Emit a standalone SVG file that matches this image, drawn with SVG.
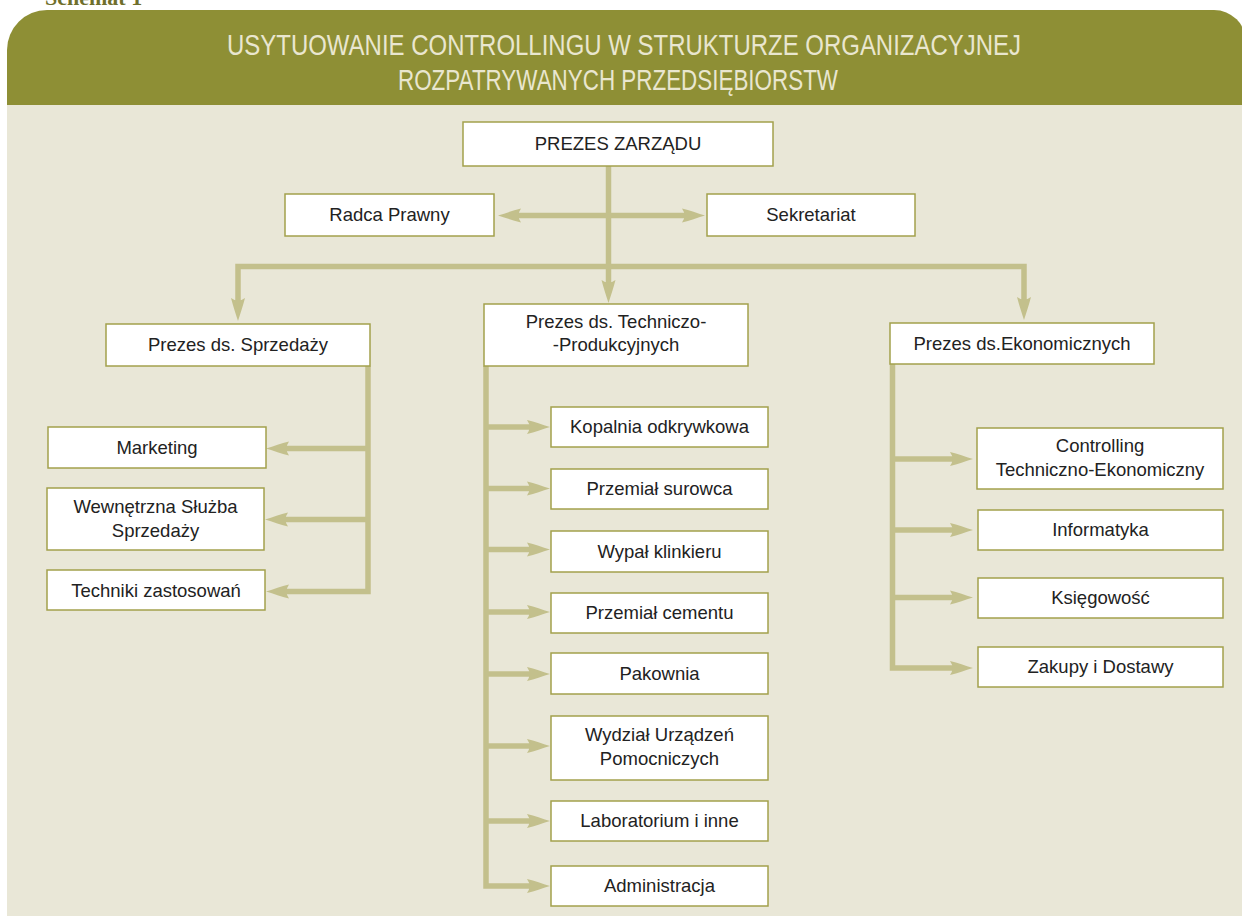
<svg xmlns="http://www.w3.org/2000/svg" width="1242" height="916" viewBox="0 0 1242 916">
<defs>
<style>
.box{fill:#ffffff;stroke:#a3a14c;stroke-width:1.5}
.lbl{font-family:"Liberation Sans",Arial,sans-serif;font-size:18.5px;fill:#222222;text-anchor:middle}
.con{fill:none;stroke:#c3c08c;stroke-width:5.5;stroke-linejoin:miter}
.ttl{font-family:"Liberation Sans",Arial,sans-serif;font-size:29px;fill:#e9e6cf;text-anchor:middle}
</style>
<marker id="ah" viewBox="-25 -8 26 16" refX="-15" refY="0" markerWidth="26" markerHeight="16" markerUnits="userSpaceOnUse" orient="auto-start-reverse">
<path d="M0,0 C-8,-2.5 -15,-5 -23,-7 Q-18,0 -23,7 C-15,5 -8,2.5 0,0 Z" fill="#c3c08c"/>
</marker>
</defs>
<rect x="0" y="0" width="1242" height="916" fill="#ffffff"/>
<text x="45" y="5" font-family="Liberation Serif,serif" font-weight="bold" font-size="22" fill="#6f6f2c">Schemat 1</text>
<g id="panel">
<rect x="7" y="100" width="1240" height="830" fill="#e9e7d7"/>
<path d="M7,105 V50 A40,40 0 0 1 47,10 H1214 A32,32 0 0 1 1246,42 V105 Z" fill="#8e8f35"/>
<text class="ttl" x="624" y="55" textLength="794" lengthAdjust="spacingAndGlyphs">USYTUOWANIE CONTROLLINGU W STRUKTURZE ORGANIZACYJNEJ</text>
<text class="ttl" x="618" y="90" textLength="440" lengthAdjust="spacingAndGlyphs">ROZPATRYWANYCH PRZEDSIĘBIORSTW</text>
</g>
<g id="connectors">
<path class="con" d="M608.5,166 V288" marker-end="url(#ah)"/>
<path class="con" d="M513,215.5 H690" marker-start="url(#ah)" marker-end="url(#ah)"/>
<path class="con" d="M608.5,266.5 H238 V306" marker-end="url(#ah)"/>
<path class="con" d="M608.5,266.5 H1024 V305" marker-end="url(#ah)"/>
<path class="con" d="M368,366 V591.5 H281" marker-end="url(#ah)"/>
<path class="con" d="M368,448.5 H281" marker-end="url(#ah)"/>
<path class="con" d="M368,519.5 H280" marker-end="url(#ah)"/>
<path class="con" d="M486,366 V886 H535" marker-end="url(#ah)"/>
<path class="con" d="M486,427 H535" marker-end="url(#ah)"/>
<path class="con" d="M486,488.5 H535" marker-end="url(#ah)"/>
<path class="con" d="M486,549.5 H535" marker-end="url(#ah)"/>
<path class="con" d="M486,612 H535" marker-end="url(#ah)"/>
<path class="con" d="M486,674 H535" marker-end="url(#ah)"/>
<path class="con" d="M486,746 H535" marker-end="url(#ah)"/>
<path class="con" d="M486,821 H535" marker-end="url(#ah)"/>
<path class="con" d="M892.5,364 V668 H958" marker-end="url(#ah)"/>
<path class="con" d="M892.5,459 H958" marker-end="url(#ah)"/>
<path class="con" d="M892.5,530 H958" marker-end="url(#ah)"/>
<path class="con" d="M892.5,597.5 H958" marker-end="url(#ah)"/>
</g>
<g id="prezes-zarzadu"><rect class="box" x="463" y="122" width="310" height="44"/><text class="lbl" x="618" y="150">PREZES ZARZĄDU</text></g>
<g id="radca-prawny"><rect class="box" x="285" y="194" width="209" height="42"/><text class="lbl" x="389.5" y="221">Radca Prawny</text></g>
<g id="sekretariat"><rect class="box" x="707" y="194" width="208" height="42"/><text class="lbl" x="811" y="221">Sekretariat</text></g>
<g id="prezes-sprzedazy"><rect class="box" x="106" y="324" width="264" height="42"/><text class="lbl" x="238" y="351">Prezes ds. Sprzedaży</text></g>
<g id="prezes-techniczno"><rect class="box" x="484" y="304" width="264" height="62"/><text class="lbl" x="616" y="328">Prezes ds. Techniczo-</text><text class="lbl" x="616" y="351">-Produkcyjnych</text></g>
<g id="prezes-ekonomicznych"><rect class="box" x="890" y="323" width="264" height="41"/><text class="lbl" x="1022" y="350">Prezes ds.Ekonomicznych</text></g>
<g id="marketing"><rect class="box" x="48" y="427" width="218" height="41"/><text class="lbl" x="157" y="453.5">Marketing</text></g>
<g id="wewnetrzna"><rect class="box" x="47" y="488" width="217" height="62"/><text class="lbl" x="155.5" y="513">Wewnętrzna Służba</text><text class="lbl" x="155.5" y="537">Sprzedaży</text></g>
<g id="techniki"><rect class="box" x="47" y="570" width="218" height="40"/><text class="lbl" x="156" y="596.5">Techniki zastosowań</text></g>
<g id="kopalnia"><rect class="box" x="551" y="407" width="217" height="40"/><text class="lbl" x="659.5" y="433">Kopalnia odkrywkowa</text></g>
<g id="przemial-surowca"><rect class="box" x="551" y="469" width="217" height="40"/><text class="lbl" x="659.5" y="495">Przemiał surowca</text></g>
<g id="wypal"><rect class="box" x="551" y="531" width="217" height="41"/><text class="lbl" x="659.5" y="557.5">Wypał klinkieru</text></g>
<g id="przemial-cementu"><rect class="box" x="551" y="593" width="217" height="40"/><text class="lbl" x="659.5" y="619">Przemiał cementu</text></g>
<g id="pakownia"><rect class="box" x="551" y="653" width="217" height="41"/><text class="lbl" x="659.5" y="679.5">Pakownia</text></g>
<g id="wydzial"><rect class="box" x="551" y="716" width="217" height="64"/><text class="lbl" x="659.5" y="741">Wydział Urządzeń</text><text class="lbl" x="659.5" y="765">Pomocniczych</text></g>
<g id="laboratorium"><rect class="box" x="551" y="801" width="217" height="40"/><text class="lbl" x="659.5" y="827">Laboratorium i inne</text></g>
<g id="administracja"><rect class="box" x="551" y="866" width="217" height="40"/><text class="lbl" x="659.5" y="892">Administracja</text></g>
<g id="controlling"><rect class="box" x="977" y="428" width="246" height="61"/><text class="lbl" x="1100" y="452">Controlling</text><text class="lbl" x="1100" y="476">Techniczno-Ekonomiczny</text></g>
<g id="informatyka"><rect class="box" x="978" y="510" width="245" height="40"/><text class="lbl" x="1100.5" y="536">Informatyka</text></g>
<g id="ksiegowosc"><rect class="box" x="978" y="578" width="245" height="40"/><text class="lbl" x="1100.5" y="604">Księgowość</text></g>
<g id="zakupy"><rect class="box" x="978" y="647" width="245" height="40"/><text class="lbl" x="1100.5" y="673">Zakupy i Dostawy</text></g>
</svg>
